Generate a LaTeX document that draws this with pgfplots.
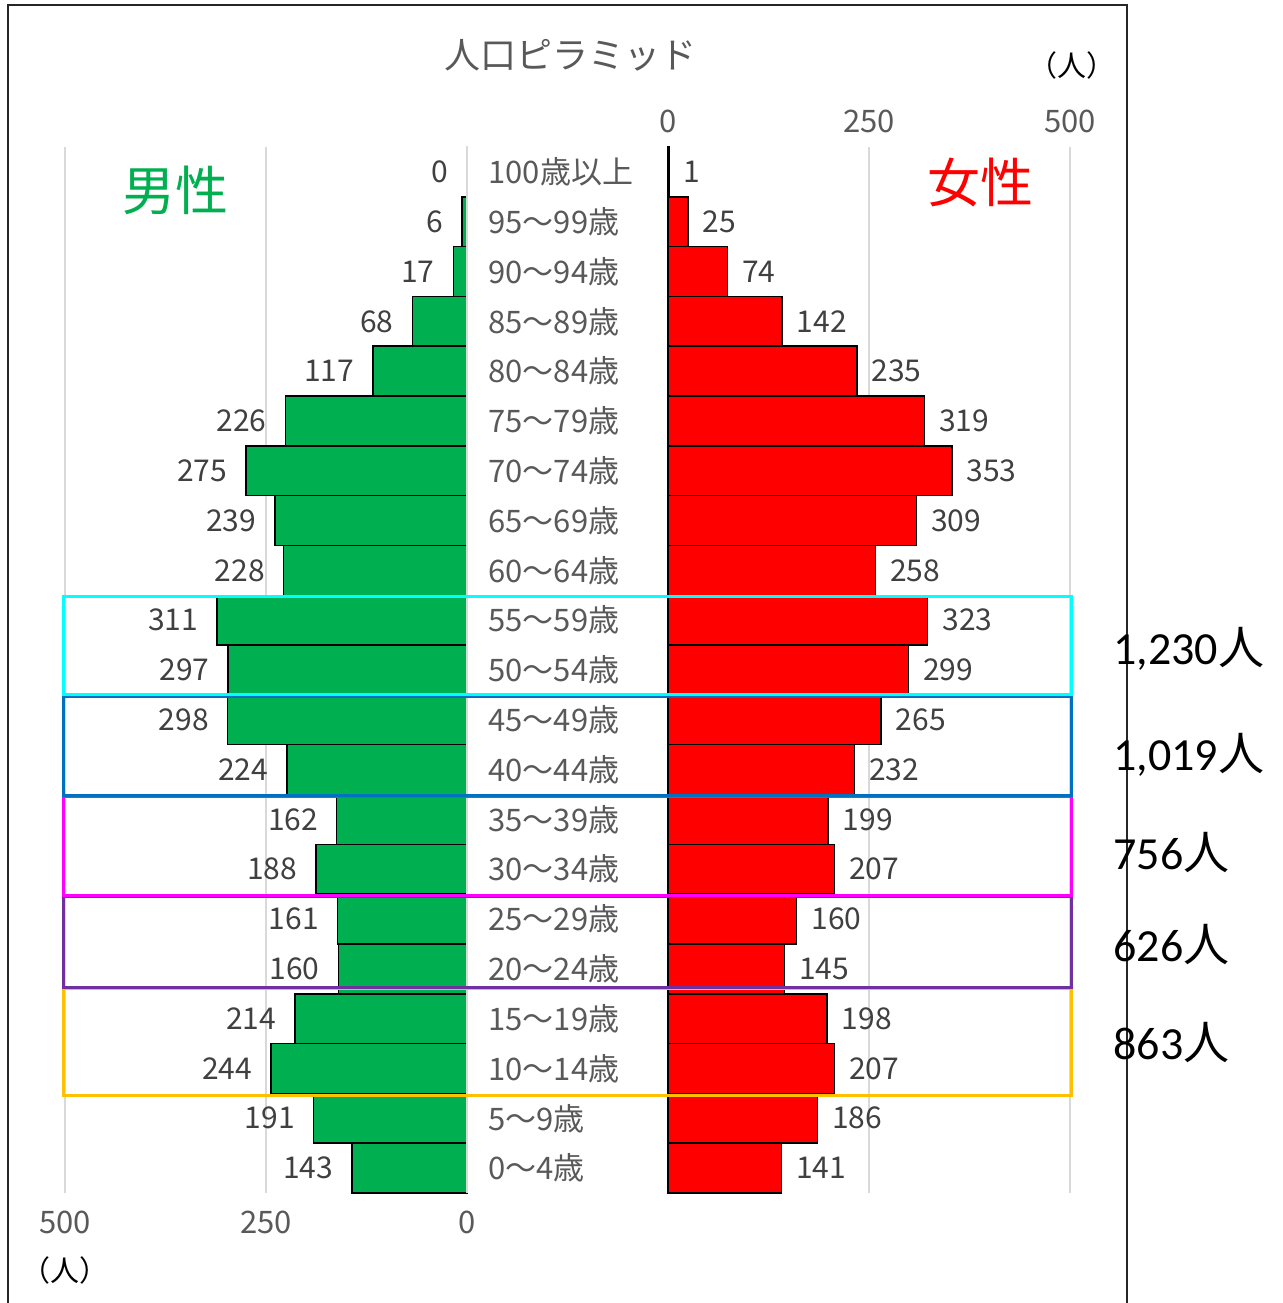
\documentclass[border=0pt]{standalone}
\usepackage{fontspec}
\setmainfont{Noto Sans CJK JP}
\newfontfamily\numfont{Carlito}
\usepackage{pgfplots}
\pgfplotsset{compat=1.18}
\usepackage{pgfplotstable}

\definecolor{mgreen}{RGB}{0,176,80}
\definecolor{fred}{RGB}{255,0,0}
\definecolor{labgray}{RGB}{89,89,89}
\definecolor{datgray}{RGB}{64,64,64}
\definecolor{gridgray}{RGB}{217,217,217}
\definecolor{bcyan}{RGB}{0,255,255}
\definecolor{bblue}{RGB}{0,112,192}
\definecolor{bmag}{RGB}{255,0,255}
\definecolor{bpurple}{RGB}{112,48,160}
\definecolor{bgold}{RGB}{255,192,0}

% idx 0 = 0~4, idx 20 = 100+
\pgfplotstableread{
idx male female
0  143 141
1  191 186
2  244 207
3  214 198
4  160 145
5  161 160
6  188 207
7  162 199
8  224 232
9  298 265
10 297 299
11 311 323
12 228 258
13 239 309
14 275 353
15 226 319
16 117 235
17 68  142
18 17  74
19 6   25
20 0   1
}\pyramid

\pgfplotsset{
  pyr/.style={
    scale only axis, width=201pt, height=523pt,
    xbar, bar width=1,
    xmin=0, xmax=500, ymin=-0.5, ymax=20.5,
    xtick={0,250,500},
    xmajorgrids, grid style={gridgray, line width=0.75pt},
    axis line style={draw=none}, major tick length=0pt,
    /pgf/number format/assume math mode=true,
    xticklabel style={font=\fontsize{15.5}{18}\selectfont, text=labgray, anchor=center},
    clip=false,
    point meta=x,
    nodes near coords,
    every node near coord/.append style={font=\fontsize{15}{18}\selectfont, text=datgray, inner sep=0pt},
  }
}

\begin{document}
\begin{tikzpicture}
\useasboundingbox (0pt,0pt) rectangle (641.5pt,651.5pt);

% male
\begin{axis}[pyr, at={(32.5pt,55pt)}, anchor=south west, x dir=reverse,
  xticklabel style={yshift=-14.5pt},
  ytick={0,...,20}, yticklabel pos=right,
  yticklabels={0～4歳,5～9歳,10～14歳,15～19歳,20～24歳,25～29歳,30～34歳,35～39歳,40～44歳,45～49歳,50～54歳,55～59歳,60～64歳,65～69歳,70～74歳,75～79歳,80～84歳,85～89歳,90～94歳,95～99歳,100歳以上},
  yticklabel style={font=\fontsize{15.5}{18}\selectfont, text=labgray, anchor=west, inner sep=0pt, xshift=10.5pt},
  every node near coord/.append style={anchor=east, xshift=-9pt}]
\addplot[fill=mgreen, draw=black, line width=0.75pt] table[x=male, y=idx] {\pyramid};
\draw[gridgray, line width=0.9pt] (axis cs:0,-0.5) -- (axis cs:0,20.5);
\end{axis}

% female
\begin{axis}[pyr, at={(334pt,55pt)}, anchor=south west,
  xticklabel pos=upper, xticklabel style={yshift=13pt},
  ytick=\empty,
  every node near coord/.append style={anchor=west, xshift=7pt}]
\addplot[fill=fred, draw=black, line width=0.75pt] table[x=female, y=idx] {\pyramid};
\end{axis}

\begin{scope}[x=0.5pt, y=0.5pt]
% group boxes
\draw[bgold, line width=1.5pt] (63,314) rectangle (1071,207);
\draw[bpurple, line width=1.5pt] (63,406) rectangle (1071,315);
\draw[bmag, line width=1.5pt] (63,506) rectangle (1071,407);
\draw[bblue, line width=1.5pt] (63,606) rectangle (1071,507);
\draw[bcyan, line width=1.5pt] (63,706) rectangle (1071,608);

% frame
\draw[black!85, line width=1pt] (8,-7) -- (8,1298) -- (1127,1298) -- (1127,-7);

% texts
\node[text=labgray, font=\fontsize{18}{20}\selectfont] at (570,1248) {人口ピラミッド};
\node[font=\fontsize{14.5}{16}\selectfont] at (1072,1238) {（人）};
\node[font=\fontsize{14.5}{16}\selectfont] at (65,33) {（人）};
\node[text=mgreen, font=\fontsize{26.5}{30}\selectfont] at (175,1113) {男性};
\node[text=fred, font=\fontsize{26.5}{30}\selectfont] at (980,1120) {女性};

\node[anchor=west, inner sep=0pt, font=\fontsize{23}{26}\selectfont] at (1113,654) {{\numfont 1,230}人};
\node[anchor=west, inner sep=0pt, font=\fontsize{23}{26}\selectfont] at (1113,548) {{\numfont 1,019}人};
\node[anchor=west, inner sep=0pt, font=\fontsize{23}{26}\selectfont] at (1113,450) {{\numfont 756}人};
\node[anchor=west, inner sep=0pt, font=\fontsize{23}{26}\selectfont] at (1113,358) {{\numfont 626}人};
\node[anchor=west, inner sep=0pt, font=\fontsize{23}{26}\selectfont] at (1113,260) {{\numfont 863}人};
\end{scope}
\end{tikzpicture}
\end{document}
